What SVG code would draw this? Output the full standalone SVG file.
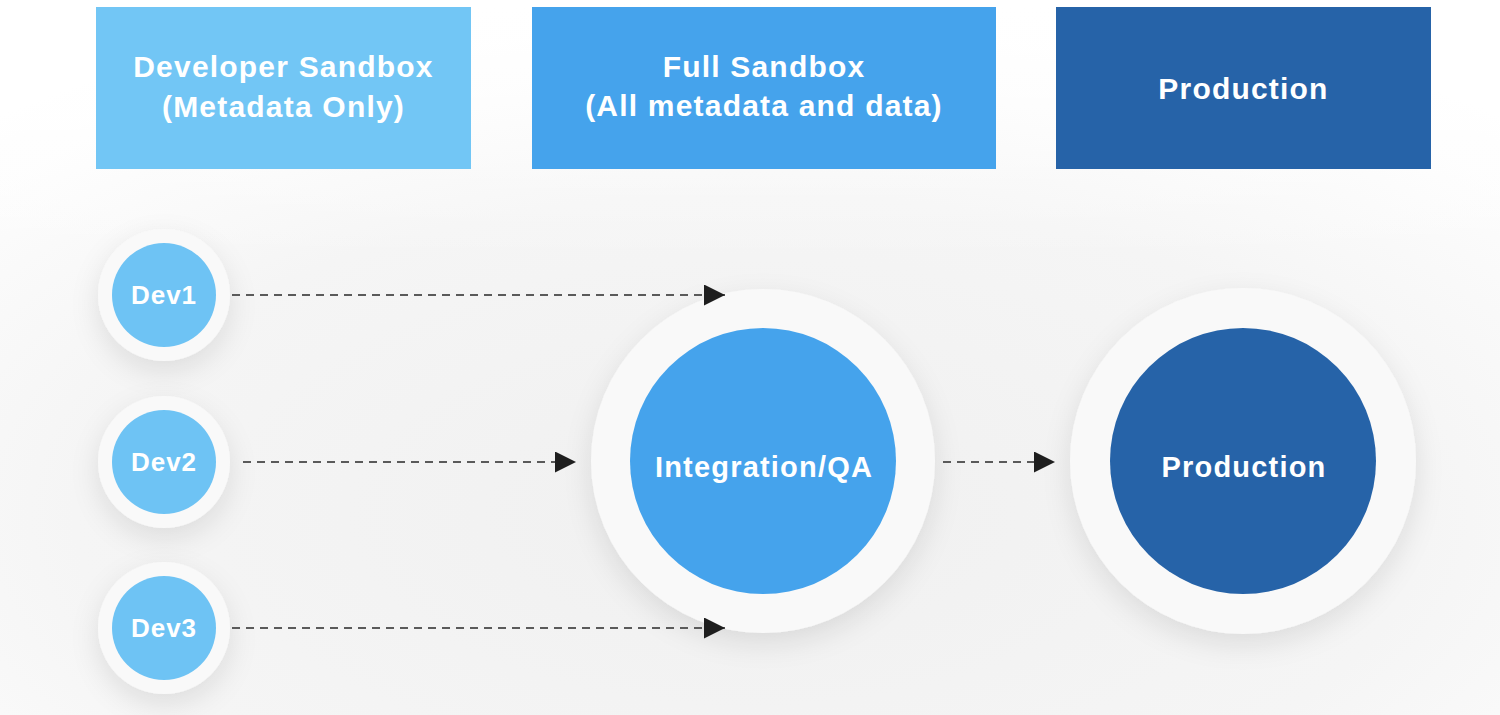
<svg xmlns="http://www.w3.org/2000/svg" width="1500" height="715" viewBox="0 0 1500 715">
<defs>
<radialGradient id="bg" cx="0.5" cy="0.72" r="0.75">
<stop offset="0" stop-color="#f0f0f0"/>
<stop offset="0.6" stop-color="#f5f5f5"/>
<stop offset="1" stop-color="#ffffff"/>
</radialGradient>
<linearGradient id="fadeTop" x1="0" y1="0" x2="0" y2="1">
<stop offset="0" stop-color="#ffffff" stop-opacity="1"/>
<stop offset="1" stop-color="#ffffff" stop-opacity="0"/>
</linearGradient>
<filter id="sh" x="-50%" y="-50%" width="200%" height="200%">
<feGaussianBlur in="SourceAlpha" stdDeviation="14"/>
<feOffset dx="0" dy="10" result="b"/>
<feFlood flood-color="#000" flood-opacity="0.10"/>
<feComposite in2="b" operator="in"/>
<feMerge><feMergeNode/><feMergeNode in="SourceGraphic"/></feMerge>
</filter>
<marker id="arr" viewBox="0 0 10 10" refX="10" refY="5" markerWidth="21" markerHeight="21" markerUnits="userSpaceOnUse" orient="auto">
<path d="M0,0 L10,5 L0,10 Z" fill="#1e1e1e"/>
</marker>
</defs>
<style>
.lbl{font-family:"Liberation Sans",Arial,sans-serif;font-weight:bold;fill:#ffffff;text-anchor:middle}
.top{font-size:30px;letter-spacing:1.2px}
.big{font-size:29px;letter-spacing:1.2px}
.dev{font-size:26px;letter-spacing:1px}
.halo{fill:#f9f9f9}
.conn{stroke:#5a5a5a;stroke-width:2.2;stroke-dasharray:8 6;fill:none}
</style>
<rect x="0" y="0" width="1500" height="715" fill="url(#bg)"/>
<rect x="0" y="0" width="1500" height="260" fill="url(#fadeTop)"/>

<g id="box-dev">
<rect x="96" y="7" width="375" height="162" fill="#72c6f5"/>
<text class="lbl top" x="283.5" y="77">Developer Sandbox</text>
<text class="lbl top" x="283.5" y="117">(Metadata Only)</text>
</g>
<g id="box-full">
<rect x="532" y="7" width="464" height="162" fill="#45a3ec"/>
<text class="lbl top" x="764" y="77">Full Sandbox</text>
<text class="lbl top" x="764" y="116">(All metadata and data)</text>
</g>
<g id="box-prod">
<rect x="1056" y="7" width="375" height="162" fill="#2663a8"/>
<text class="lbl top" x="1243.5" y="99">Production</text>
</g>

<g id="dev1">
<circle class="halo" cx="164" cy="295" r="66" filter="url(#sh)"/>
<circle cx="164" cy="295" r="52" fill="#6ec3f4"/>
<text class="lbl dev" x="164" y="304">Dev1</text>
</g>
<g id="dev2">
<circle class="halo" cx="164" cy="462" r="66" filter="url(#sh)"/>
<circle cx="164" cy="462" r="52" fill="#6ec3f4"/>
<text class="lbl dev" x="164" y="471">Dev2</text>
</g>
<g id="dev3">
<circle class="halo" cx="164" cy="628" r="66" filter="url(#sh)"/>
<circle cx="164" cy="628" r="52" fill="#6ec3f4"/>
<text class="lbl dev" x="164" y="637">Dev3</text>
</g>
<g id="integration">
<circle class="halo" cx="763" cy="461" r="172" filter="url(#sh)"/>
<circle cx="763" cy="461" r="133" fill="#45a3ec"/>
<text class="lbl big" x="764" y="477">Integration/QA</text>
</g>
<g id="production">
<circle class="halo" cx="1243" cy="461" r="173" filter="url(#sh)"/>
<circle cx="1243" cy="461" r="133" fill="#2663a8"/>
<text class="lbl big" x="1244" y="477">Production</text>
</g>

<g id="connectors">
<line class="conn" x1="232" y1="295" x2="725" y2="295" marker-end="url(#arr)"/>
<line class="conn" x1="243" y1="462" x2="576" y2="462" marker-end="url(#arr)"/>
<line class="conn" x1="232" y1="628" x2="725" y2="628" marker-end="url(#arr)"/>
<line class="conn" x1="943" y1="462" x2="1055" y2="462" marker-end="url(#arr)"/>
</g>
</svg>
